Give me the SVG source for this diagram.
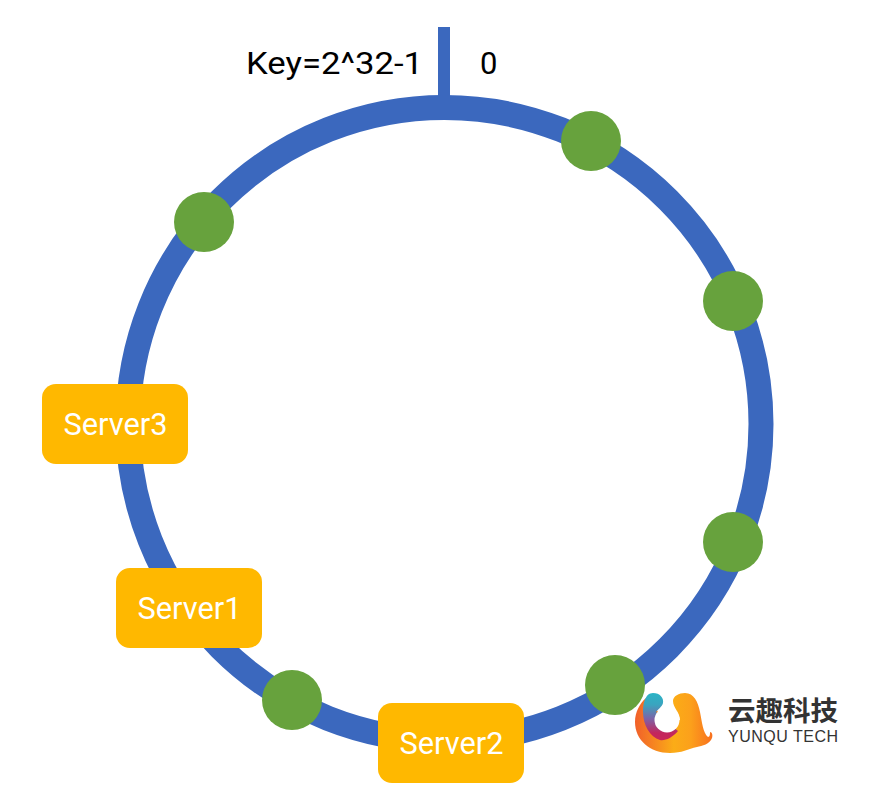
<svg xmlns="http://www.w3.org/2000/svg" width="874" height="802" viewBox="0 0 874 802">
<style>
.ink{font-family:"Liberation Sans","Noto Sans CJK SC",sans-serif}
.lbl{font-family:Roboto,"Liberation Sans",sans-serif;font-weight:400;font-size:31px;fill:#000}
.srv{fill:#ffb800}
.srvt{font-family:Roboto,"Liberation Sans",sans-serif;font-weight:400;font-size:31px;fill:#fff}
.dot{fill:#67a23d}
</style>
<defs>
<linearGradient id="gO" x1="0" y1="0" x2="1" y2="0"><stop offset="0" stop-color="#f1602a"/><stop offset=".5" stop-color="#fbac17"/><stop offset=".72" stop-color="#fca01b"/><stop offset="1" stop-color="#f8701f"/></linearGradient>
<linearGradient id="gT" x1="0" y1="0" x2="0" y2="1"><stop offset="0" stop-color="#2bb4c6"/><stop offset=".25" stop-color="#3aa4bf"/><stop offset=".55" stop-color="#7e62a6"/><stop offset=".85" stop-color="#c4265c"/><stop offset="1" stop-color="#c8285a"/></linearGradient>
</defs>
<g id="connectors">
<circle cx="444.5" cy="424" r="316.5" fill="none" stroke="#3b68be" stroke-width="25"/>
<rect x="438" y="27" width="12" height="72" fill="#3b68be"/>
</g>
<g id="label-key"><text class="lbl" x="246" y="74" textLength="177" lengthAdjust="spacingAndGlyphs">Key=2^32-1</text></g>
<g id="label-zero"><text class="lbl" x="480" y="74">0</text></g>
<g id="dot1"><circle class="dot" cx="591" cy="141" r="30"/></g>
<g id="dot2"><circle class="dot" cx="733" cy="301" r="30"/></g>
<g id="dot3"><circle class="dot" cx="733" cy="542" r="30"/></g>
<g id="dot4"><circle class="dot" cx="615" cy="685" r="30"/></g>
<g id="dot5"><circle class="dot" cx="292" cy="700" r="30"/></g>
<g id="dot6"><circle class="dot" cx="204" cy="222" r="30"/></g>
<g id="server3"><rect class="srv" x="42" y="384" width="146" height="80" rx="14"/><text class="srvt" x="63.5" y="435" textLength="104" lengthAdjust="spacingAndGlyphs">Server3</text></g>
<g id="server1"><rect class="srv" x="116" y="568" width="146" height="80" rx="14"/><text class="srvt" x="137.5" y="619" textLength="104" lengthAdjust="spacingAndGlyphs">Server1</text></g>
<g id="server2"><rect class="srv" x="378" y="703" width="146" height="80" rx="14"/><text class="srvt" x="399.5" y="754" textLength="104" lengthAdjust="spacingAndGlyphs">Server2</text></g>
<g id="logo">
<path d="M685 693C694 693 698 702 700 712C702 722 703 733 708 737C710 737 710 734 710 732C712 732 713 735 712 738C710 744 702 746 697 747C688 749 682 753 670 753C650 753 635 740 635 722C635 712 640 703 646 698L667 722L680 720C680 712 673 708 673 701C673 696 679 693 685 693Z" fill="url(#gO)"/>
<path d="M653 693C660 693 664 698 663 703C662 707 658 709 656 712L667 722L678 731C672 738 665 741 660 740C650 737 643 725 643 712C643 704 645 693 653 693Z" fill="url(#gT)"/>
<circle cx="667" cy="720" r="12.5" fill="#fff"/>
<text class="ink" x="728" y="721" font-size="27.5" font-weight="bold" fill="#333" textLength="110">云趣科技</text>
<text class="ink" x="728" y="742" font-size="16" fill="#333" textLength="110">YUNQU TECH</text>
</g>
</svg>
